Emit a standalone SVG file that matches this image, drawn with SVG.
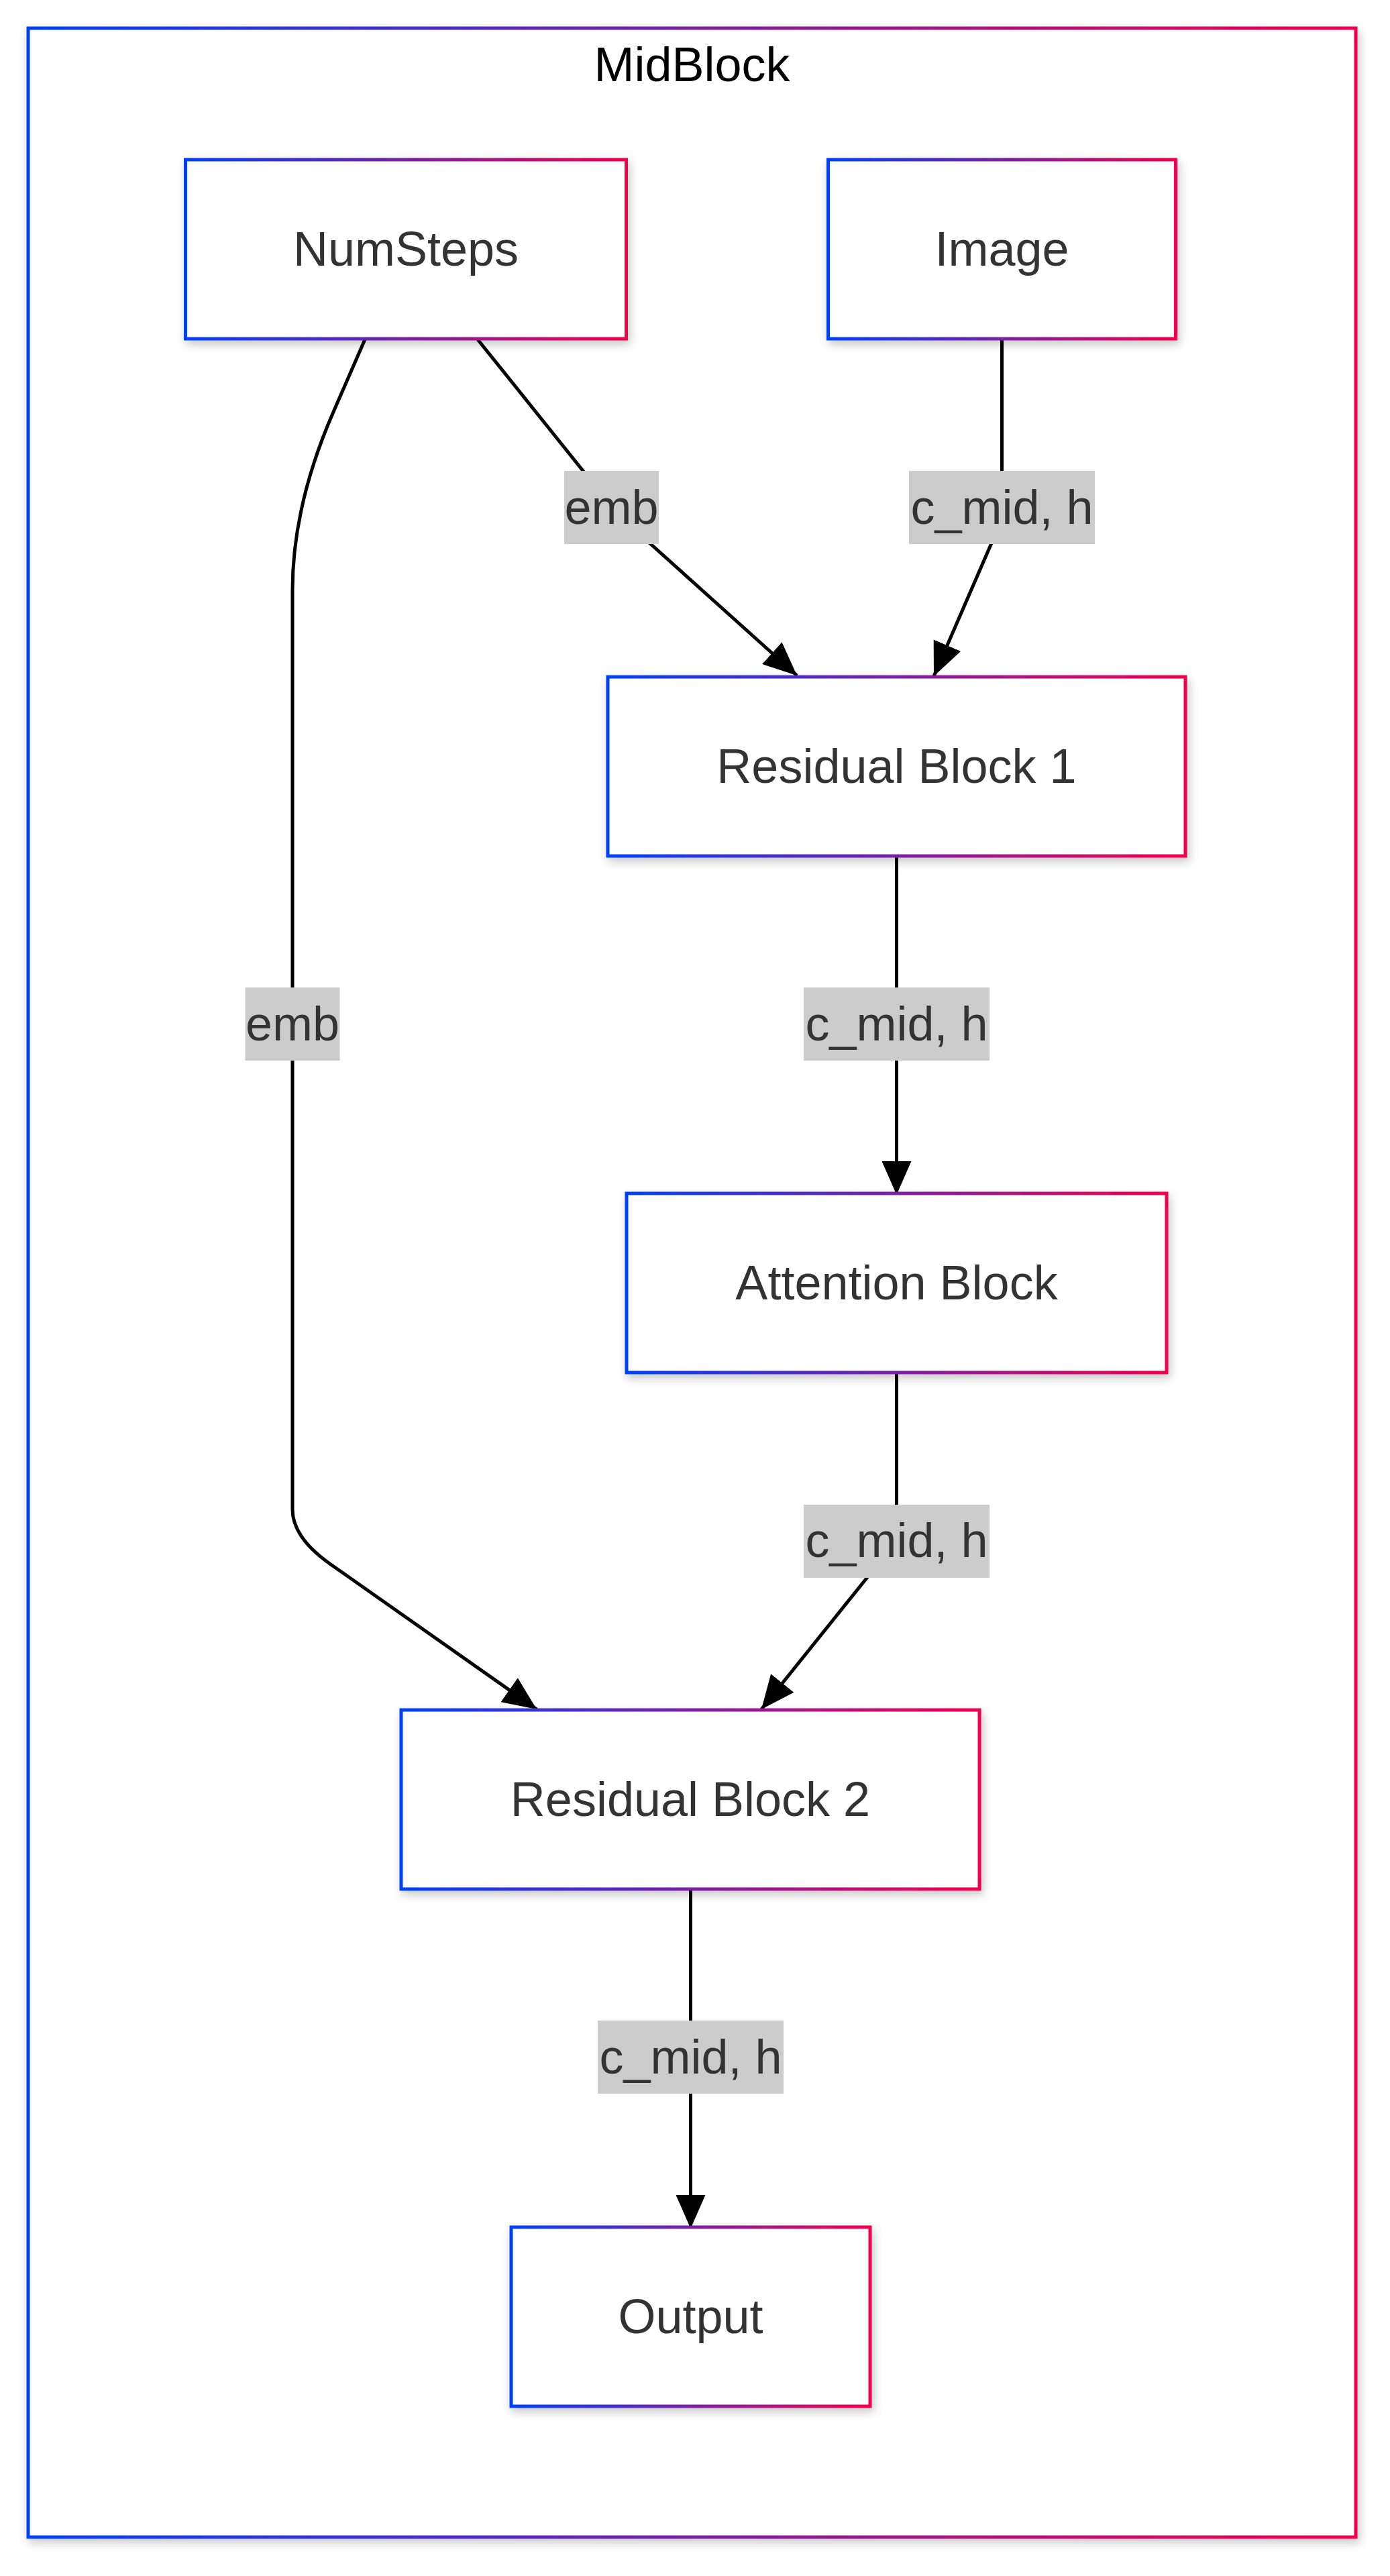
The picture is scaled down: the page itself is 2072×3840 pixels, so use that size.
<svg xmlns="http://www.w3.org/2000/svg" width="2072" height="3840" viewBox="0 0 2072 3840">
<style>
  .node rect { fill: #ffffff; stroke: url(#grad); stroke-width: 5; filter: url(#shadow); }
  .node text { font-family: "Liberation Sans", Arial, sans-serif; font-size: 72px; fill: #333333; text-anchor: middle; }
  .cluster rect { fill: #ffffff; stroke: url(#grad); stroke-width: 5; filter: url(#shadow); }
  .cluster text { font-family: "Liberation Sans", Arial, sans-serif; font-size: 72px; fill: #000000; text-anchor: middle; }
  .edge { fill: none; stroke: #000000; stroke-width: 5; marker-end: url(#arrow); }
  .elabel rect { fill: #cccccc; stroke: none; }
  .elabel text { font-family: "Liberation Sans", Arial, sans-serif; font-size: 72px; fill: #333333; text-anchor: middle; }
</style>
<defs>
  <linearGradient id="grad" x1="0" y1="0" x2="1" y2="0">
    <stop offset="0" stop-color="#0040F8"/>
    <stop offset="1" stop-color="#F2004E"/>
  </linearGradient>
  <filter id="shadow" x="-10%" y="-10%" width="130%" height="130%">
    <feDropShadow dx="3" dy="6" stdDeviation="7" flood-color="#000000" flood-opacity="0.22"/>
  </filter>
  <marker id="arrow" markerUnits="userSpaceOnUse" markerWidth="50" markerHeight="44" viewBox="0 0 50 44" refX="50" refY="22" orient="auto">
    <path d="M0,0 L50,22 L0,44 z" fill="#000000"/>
  </marker>
</defs>
<rect x="0" y="0" width="2072" height="3840" fill="#ffffff"/>
<g id="MidBlock" class="cluster">
  <rect x="42" y="42" width="1979" height="3740"/>
  <text x="1031.5" y="121">MidBlock</text>
</g>
<g id="connectors">
  <path class="edge" d="M712,506 L878,713 Q911,757 950,793 L1188,1007"/>
  <path class="edge" d="M1493.5,506 L1493.5,735 Q1493.5,770 1480,805 L1392,1008"/>
  <path class="edge" d="M544,506 L497,614 Q436,754 436,880 L436,2250 Q436,2292 493,2332 L800,2548"/>
  <path class="edge" d="M1336.5,1276 L1336.5,1781"/>
  <path class="edge" d="M1336.5,2046 L1336.5,2240 Q1336.5,2297 1302,2340 L1135,2548"/>
  <path class="edge" d="M1029.5,2816 L1029.5,3322"/>
</g>
<g id="edge-labels">
  <g class="elabel"><rect x="841" y="702" width="141" height="109"/><text x="911.5" y="781">emb</text></g>
  <g class="elabel"><rect x="1355" y="702" width="277" height="109"/><text x="1493.5" y="781">c_mid, h</text></g>
  <g class="elabel"><rect x="365.5" y="1472" width="141" height="109"/><text x="436" y="1551">emb</text></g>
  <g class="elabel"><rect x="1198" y="1472" width="277" height="109"/><text x="1336.5" y="1551">c_mid, h</text></g>
  <g class="elabel"><rect x="1198" y="2243" width="277" height="109"/><text x="1336.5" y="2321">c_mid, h</text></g>
  <g class="elabel"><rect x="891" y="3012" width="277" height="109"/><text x="1029.5" y="3091">c_mid, h</text></g>
</g>
<g id="NumSteps" class="node">
  <rect x="276.5" y="238" width="657" height="267"/>
  <text x="605" y="396">NumSteps</text>
</g>
<g id="Image" class="node">
  <rect x="1234.5" y="238" width="518" height="267"/>
  <text x="1493.5" y="396">Image</text>
</g>
<g id="ResidualBlock1" class="node">
  <rect x="906" y="1009" width="861" height="267"/>
  <text x="1336.5" y="1167">Residual Block 1</text>
</g>
<g id="AttentionBlock" class="node">
  <rect x="934" y="1779" width="805" height="267"/>
  <text x="1336.5" y="1937">Attention Block</text>
</g>
<g id="ResidualBlock2" class="node">
  <rect x="598" y="2549" width="862" height="267"/>
  <text x="1029" y="2707">Residual Block 2</text>
</g>
<g id="Output" class="node">
  <rect x="762" y="3320" width="535" height="267"/>
  <text x="1029.5" y="3478">Output</text>
</g>
</svg>
